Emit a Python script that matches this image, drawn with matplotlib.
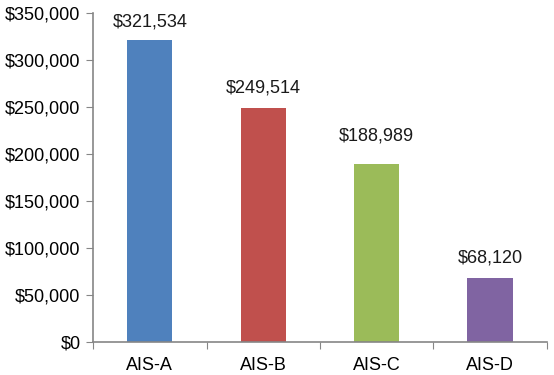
import matplotlib
matplotlib.use("Agg")
import matplotlib.pyplot as plt
from matplotlib.ticker import FuncFormatter, MultipleLocator

# datos
categorias = ["AIS-A", "AIS-B", "AIS-C", "AIS-D"]
valores = [321534, 249514, 188989, 68120]
colores = ["#4F81BD", "#C0504D", "#9BBB59", "#8064A2"]

plt.rcParams["font.family"] = ["Liberation Sans", "DejaVu Sans"]

fig = plt.figure(figsize=(5.54, 3.75), dpi=100)
ax = fig.add_axes([0.168, 0.088, 0.819, 0.877])

x = range(len(categorias))
barras = ax.bar(x, valores, width=0.4, color=colores)

# la etiqueta de AIS-C esta algo mas arriba en el original
desplaz = [7, 8, 14, 8]
for b, v, d in zip(barras, valores, desplaz):
    ax.annotate(f"${v:,}", (b.get_x() + b.get_width() / 2, v),
                xytext=(0, d), textcoords="offset points",
                ha="center", va="bottom", fontsize=13, color="#1a1a1a")

ax.set_xlim(-0.5, len(categorias) - 0.5)
ax.set_ylim(0, 350000)
ax.yaxis.set_major_locator(MultipleLocator(50000))
ax.yaxis.set_major_formatter(FuncFormatter(lambda v, p: f"${int(v):,}"))

# ticks mayores en los limites de categoria, etiquetas en el centro
ax.set_xticks([i - 0.5 for i in range(len(categorias) + 1)], minor=False)
ax.set_xticklabels([])
ax.set_xticks(list(x), minor=True)
ax.set_xticklabels(categorias, minor=True)
ax.tick_params(axis="x", which="minor", length=0, pad=11, labelsize=13)
ax.tick_params(axis="x", which="major", length=5, color="#868686")
ax.tick_params(axis="y", length=5, color="#868686", labelsize=13, pad=4)

for s in ["top", "right"]:
    ax.spines[s].set_visible(False)
for s in ["left", "bottom"]:
    ax.spines[s].set_color("#868686")
    ax.spines[s].set_linewidth(1.2)

fig.savefig("out.png", dpi=100)
